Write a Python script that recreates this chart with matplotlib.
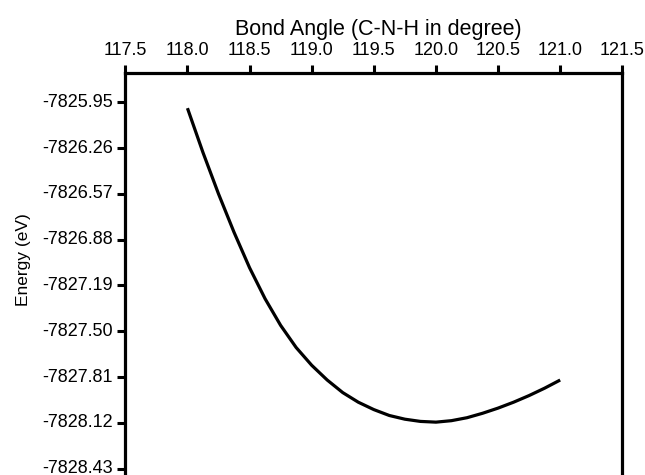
import matplotlib
matplotlib.use("Agg")
import matplotlib.pyplot as plt
import matplotlib.transforms as mtransforms
import numpy as np

plt.rcParams['font.family'] = ['Liberation Sans', 'DejaVu Sans']

# bond angle (degree) and energy (eV)
angle = [118.0, 118.125, 118.25, 118.375, 118.5, 118.625, 118.75, 118.875,
         119.0, 119.125, 119.25, 119.375, 119.5, 119.625, 119.75, 119.875,
         120.0, 120.125, 120.25, 120.375, 120.5, 120.625, 120.75, 120.875,
         121.0]
energy = [-7825.99, -7826.29, -7826.57, -7826.83, -7827.07, -7827.28,
          -7827.46, -7827.61, -7827.73, -7827.83, -7827.915, -7827.98,
          -7828.03, -7828.07, -7828.095, -7828.11, -7828.115, -7828.105,
          -7828.085, -7828.055, -7828.02, -7827.98, -7827.935, -7827.885,
          -7827.83]

xticks = np.arange(117.5, 121.51, 0.5)
yticks = [-7825.95, -7826.26, -7826.57, -7826.88, -7827.19, -7827.50,
          -7827.81, -7828.12, -7828.43]

fig = plt.figure(figsize=(6.45, 4.75), dpi=100)
ax = fig.add_axes([0.1943, -0.0396, 0.7705, 0.8853])
ax.plot(angle, energy, color='black', lw=2.3, solid_capstyle='butt',
        solid_joinstyle='round')

ax.set_xlim(117.5, 121.5)
ax.set_ylim(-7828.60, -7825.754)
ax.xaxis.tick_top()
ax.xaxis.set_label_position('top')
ax.set_xticks(xticks)
ax.set_xticklabels(['%.1f' % t for t in xticks])
ax.set_yticks(yticks)
ax.set_yticklabels(['%.2f' % t for t in yticks])
ax.tick_params(axis='both', direction='out', length=6, width=2.2,
               labelsize=13, pad=3)
ax.tick_params(axis='x', pad=4)
for s in ax.spines.values():
    s.set_linewidth(2.3)

# lift the y tick labels a touch so the lowest one stays inside the figure
lift = mtransforms.ScaledTranslation(0, 2 / 100, fig.dpi_scale_trans)
for lab in ax.get_yticklabels():
    lab.set_transform(lab.get_transform() + lift)

ax.set_xlabel('Bond Angle (C-N-H in degree)', fontsize=15.5)
ax.set_ylabel('Energy (eV)', fontsize=12.5)
ax.xaxis.set_label_coords(0.509, 1.09)
ax.yaxis.set_label_coords(-0.19, 0.556)

fig.savefig('out.png', dpi=100)
